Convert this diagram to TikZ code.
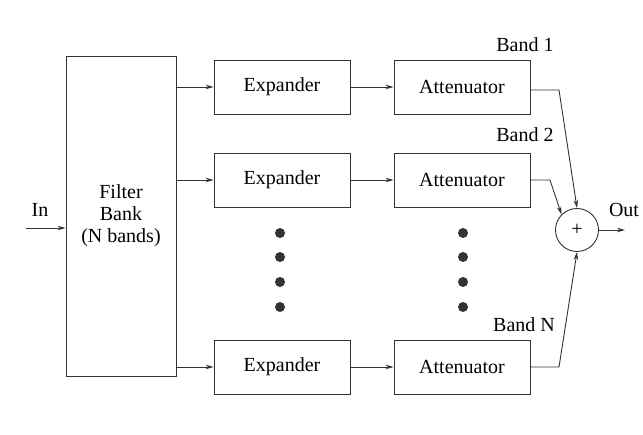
\documentclass[tikz,border=0pt]{standalone}
\usepackage{fontspec}
\setmainfont{Liberation Serif}
\usetikzlibrary{arrows.meta}
\begin{document}
\begin{tikzpicture}[x=1pt,y=-1pt,
  blk/.style={draw=black!80,line width=0.9pt,inner sep=0pt},
  lbl/.style={font=\fontsize{20}{23}\selectfont,inner sep=0pt},
  wire/.style={draw=black!80,line width=0.9pt,-{Stealth[length=8pt,width=4.5pt]}},
  dot/.style={circle,fill=black!80,minimum size=10pt,inner sep=0pt}]
\useasboundingbox (0,0) rectangle (643,435);
\fill[white] (0,0) rectangle (643,435);
% filter bank
\node[blk,minimum width=110pt,minimum height=320pt,align=center,
  font=\fontsize{20}{22}\selectfont] (fb) at (121,216) {Filter\\Bank\\(N bands)};
% band rows
\foreach \r/\y in {a/87,b/180,n/367}{
  \node[blk,minimum width=136pt,minimum height=54pt,lbl] (e\r) at (282,\y) {Expander};
  \node[blk,minimum width=136pt,minimum height=54pt,lbl] (t\r) at (462,\y) {Attenuator};
  \draw[wire] (fb.east|-e\r.west) -- (e\r.west);
  \draw[wire] (e\r) -- (t\r);
}
% dots between rows
\foreach \yy [count=\i] in {233,257,282,307}{
  \node[dot] (dl\i) at (280,\yy) {};
  \node[dot] (dr\i) at (463,\yy) {};
}
% summing junction
\node[circle,draw=black!80,line width=0.9pt,minimum size=43pt,inner sep=0pt,lbl] (sum) at (577,230) {+};
\coordinate (ka) at (559,90);
\coordinate (kb) at (550,180);
\coordinate (kn) at (559,367);
\draw[wire] (ta.east|-ka) -- (ka) -- (sum.north);
\draw[wire] (tb.east) -- (kb) -- (sum.north west);
\draw[wire] (tn.east) -- (kn) -- (sum.south);
% input and output
\coordinate (inp) at (26,228);
\coordinate (outp) at (625,230);
\draw[wire] (inp) -- (inp-|fb.west);
\draw[wire] (sum.east) -- (outp);
\node[lbl] (lin) at (40,210) {In};
\node[lbl] (lout) at (624,210) {Out};
\node[lbl] (l1) at (525,45) {Band 1};
\node[lbl] (l2) at (525,135) {Band 2};
\node[lbl] (ln) at (524,325) {Band N};
\end{tikzpicture}
\end{document}
